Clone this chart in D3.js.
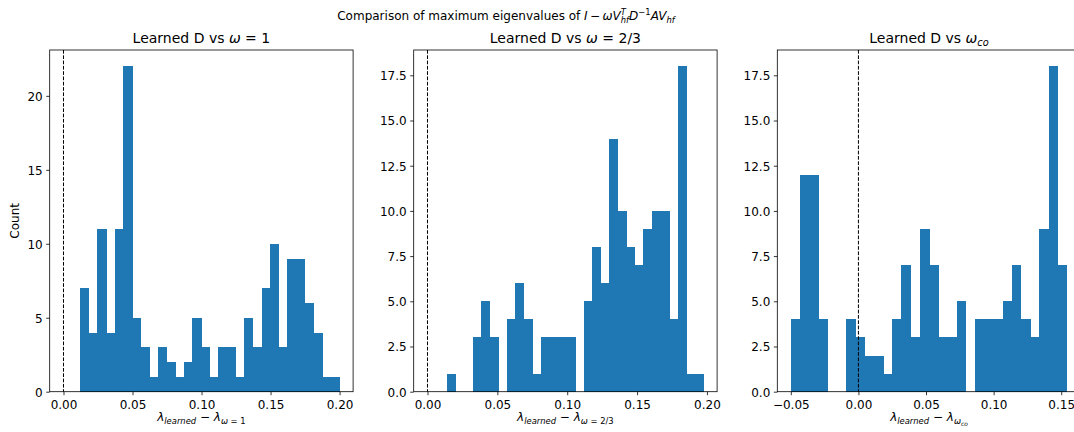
<!DOCTYPE html>
<html>
<head>
<meta charset="utf-8">
<script src="https://cdn.jsdelivr.net/npm/d3@7"></script>
<style>
  body { margin: 0; background: #fff; }
  svg { display: block; font-family: "DejaVu Sans", sans-serif; }
  text { white-space: pre; fill: #000; }
</style>
</head>
<body>
<svg id="fig" width="1074" height="432"></svg>
<script>
// Histogram counts (30 bins per panel).
var counts1 = [7, 4, 11, 4, 11, 22, 5, 3, 1, 3, 2, 1, 2, 5, 3, 1, 3, 3, 1, 5, 3, 7, 10, 3, 9, 9, 6, 4, 1, 1];
var counts2 = [1, 0, 0, 3, 5, 3, 0, 4, 6, 4, 1, 3, 3, 3, 3, 0, 5, 8, 6, 14, 10, 8, 7, 9, 10, 10, 4, 18, 1, 1];
var counts3 = [4, 12, 12, 4, 0, 0, 4, 3, 2, 2, 1, 4, 7, 3, 9, 7, 3, 3, 5, 0, 4, 4, 4, 5, 7, 4, 3, 9, 18, 7];

// Data range (first and last bin edge) of each histogram.
var range1 = [0.0121, 0.1998];
var range2 = [0.0139, 0.1974];
var range3 = [-0.0498, 0.1542];

// Tick values.
var xTicks1 = [0, 0.05, 0.10, 0.15, 0.20];
var xTicks2 = [0, 0.05, 0.10, 0.15, 0.20];
var xTicks3 = [-0.05, 0, 0.05, 0.10, 0.15];
var yTicks1 = [0, 5, 10, 15, 20];
var yTicks2 = [0, 2.5, 5, 7.5, 10, 12.5, 15, 17.5];
var yTicks3 = [0, 2.5, 5, 7.5, 10, 12.5, 15, 17.5];

var svg = d3.select("#fig");
var plotTop = 50, plotBottom = 391.7, panelW = 303.4;
var lefts = [49.7, 413.7, 777.3];
var blue = "#1f77b4";
var tickFont = 12, titleFont = 14, supFont = 12;

// Writes simple "math text" into a text element: each part may be italic,
// a subscript (lvl 1), sub-subscript (lvl 2) or superscript (lvl -1).
// back: true puts the part at the same x as the previous one (stacked).
function mathText(text, parts, size) {
  var shift = { "0": 0, "1": 0.22, "2": 0.40, "-1": -0.42 };
  var scale = { "0": 1, "1": 0.7, "2": 0.5, "-1": 0.7 };
  var cur = 0, prev = null;
  parts.forEach(function (p) {
    var lvl = p.lvl || 0;
    var off = shift[lvl] * size;
    var ts = text.append("tspan")
      .attr("dy", off - cur)
      .style("font-size", (size * scale[lvl]) + "px")
      .style("font-style", p.it ? "italic" : "normal")
      .text(p.t);
    if (p.back && prev) {
      ts.attr("dx", -prev.node().getComputedTextLength());
    }
    cur = off;
    prev = ts;
  });
}

function panel(i, counts, range, xTicks, yTicks, yFmt, xFmt, titleParts, xlabParts) {
  var left = lefts[i];
  var g = svg.append("g");
  var n = counts.length;
  var step = (range[1] - range[0]) / n;
  var bins = counts.map(function (c, k) {
    return { x0: range[0] + k * step, x1: range[0] + (k + 1) * step, c: c };
  });

  // matplotlib-like autoscale: include 0 (the vline) and add 5% margins.
  var lo = Math.min(0, range[0]), hi = Math.max(0, range[1]);
  var pad = (hi - lo) * 0.05;
  var x = d3.scaleLinear().domain([lo - pad, hi + pad]).range([left, left + panelW]);
  var y = d3.scaleLinear().domain([0, d3.max(counts) * 1.05]).range([plotBottom, plotTop]);

  g.selectAll("rect.bar")
    .data(bins)
    .enter().append("rect")
      .attr("class", "bar")
      .attr("x", function (d) { return x(d.x0); })
      .attr("width", function (d) { return x(d.x1) - x(d.x0) + 0.5; })
      .attr("y", function (d) { return y(d.c); })
      .attr("height", function (d) { return plotBottom - y(d.c); })
      .attr("shape-rendering", "crispEdges")
      .attr("fill", blue);

  // Dashed vertical line at zero.
  g.append("line")
    .attr("x1", x(0)).attr("x2", x(0))
    .attr("y1", plotTop).attr("y2", plotBottom)
    .attr("stroke", "#000").attr("stroke-width", 1)
    .attr("stroke-dasharray", "3.7,1.6");

  // Axes frame.
  g.append("rect")
    .attr("x", left).attr("y", plotTop)
    .attr("width", panelW).attr("height", plotBottom - plotTop)
    .attr("fill", "none").attr("stroke", "#000").attr("stroke-width", 0.8);

  var xAxis = d3.axisBottom(x).tickValues(xTicks).tickSize(3.5).tickSizeOuter(0)
    .tickFormat(xFmt);
  var gx = g.append("g").attr("transform", "translate(0," + plotBottom + ")").call(xAxis);
  gx.select(".domain").remove();
  gx.selectAll("line").attr("stroke", "#000").attr("stroke-width", 0.8);
  gx.selectAll("text").attr("y", 17).attr("dy", 0)
    .style("font-size", tickFont + "px").style("font-family", "DejaVu Sans").attr("fill", "#000");

  var yAxis = d3.axisLeft(y).tickValues(yTicks).tickSize(3.5).tickSizeOuter(0)
    .tickFormat(yFmt);
  var gy = g.append("g").attr("transform", "translate(" + left + ",0)").call(yAxis);
  gy.select(".domain").remove();
  gy.selectAll("line").attr("stroke", "#000").attr("stroke-width", 0.8);
  gy.selectAll("text").attr("x", -7).attr("dy", "0.36em")
    .style("font-size", tickFont + "px").style("font-family", "DejaVu Sans").attr("fill", "#000");

  // Subplot title and x label.
  var t = g.append("text")
    .attr("x", left + panelW / 2).attr("y", 43)
    .attr("text-anchor", "middle").style("font-size", titleFont + "px");
  mathText(t, titleParts, titleFont);

  var xl = g.append("text")
    .attr("x", left + panelW / 2).attr("y", 421)
    .attr("text-anchor", "middle").style("font-size", tickFont + "px");
  mathText(xl, xlabParts, tickFont);
}

var minusFmt = function (d) { return d3.format(".2f")(d).replace("-", "\u2212"); };

panel(0, counts1, range1, xTicks1, yTicks1, d3.format("d"), minusFmt,
  [{ t: "Learned D vs " }, { t: "\u03c9", it: true }, { t: " = 1" }],
  [{ t: "\u03bb", it: true }, { t: "learned", it: true, lvl: 1 }, { t: " \u2212 " },
   { t: "\u03bb", it: true }, { t: "\u03c9", it: true, lvl: 1 }, { t: " = 1", lvl: 1 }]);

panel(1, counts2, range2, xTicks2, yTicks2, d3.format(".1f"), minusFmt,
  [{ t: "Learned D vs " }, { t: "\u03c9", it: true }, { t: " = 2/3" }],
  [{ t: "\u03bb", it: true }, { t: "learned", it: true, lvl: 1 }, { t: " \u2212 " },
   { t: "\u03bb", it: true }, { t: "\u03c9", it: true, lvl: 1 }, { t: " = 2/3", lvl: 1 }]);

panel(2, counts3, range3, xTicks3, yTicks3, d3.format(".1f"), minusFmt,
  [{ t: "Learned D vs " }, { t: "\u03c9", it: true }, { t: "co", it: true, lvl: 1 }],
  [{ t: "\u03bb", it: true }, { t: "learned", it: true, lvl: 1 }, { t: " \u2212 " },
   { t: "\u03bb", it: true }, { t: "\u03c9", it: true, lvl: 1 }, { t: "co", it: true, lvl: 2 }]);

// Y label on the first panel only.
svg.append("text")
  .attr("transform", "translate(19.3," + ((plotTop + plotBottom) / 2) + ") rotate(-90)")
  .attr("text-anchor", "middle").style("font-size", tickFont + "px")
  .text("Count");

// Figure title.
var sup = svg.append("text")
  .attr("x", 506).attr("y", 20)
  .attr("text-anchor", "middle").style("font-size", supFont + "px");
mathText(sup, [
  { t: "Comparison of maximum eigenvalues of " },
  { t: "I", it: true }, { t: "\u2009\u2212\u2009" }, { t: "\u03c9V", it: true },
  { t: "T", it: true, lvl: -1 }, { t: "hf", it: true, lvl: 1, back: true },
  { t: "D", it: true }, { t: "\u22121", lvl: -1 },
  { t: "AV", it: true }, { t: "hf", it: true, lvl: 1 }
], supFont);
</script>
</body>
</html>
